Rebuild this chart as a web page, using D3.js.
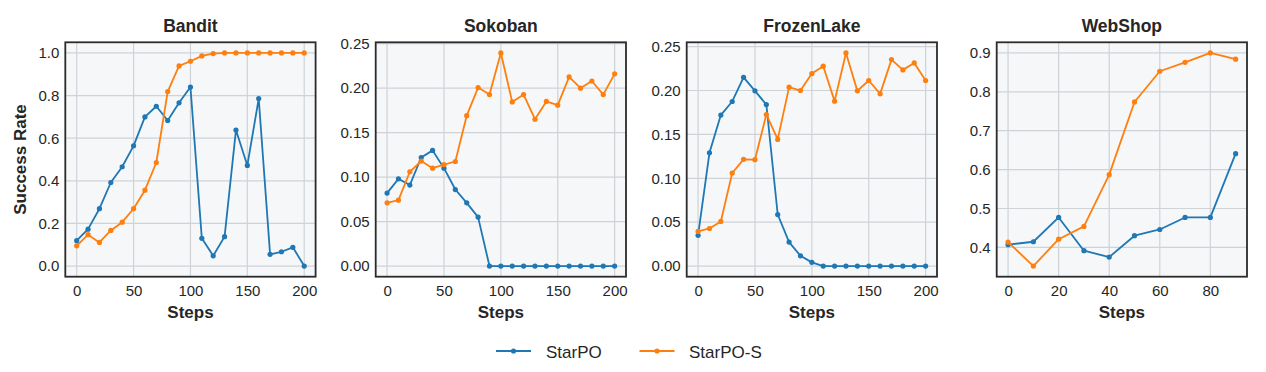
<!DOCTYPE html>
<html lang="en">

<head>
    <meta charset="UTF-8">
    <title>StarPO vs StarPO-S</title>
    <script src="https://unpkg.com/d3@7.8.5/dist/d3.min.js"></script>
    <style>
        * {
            margin: 0;
            padding: 0;
            box-sizing: border-box;
        }

        body {
            background: #fff;
        }

        svg {
            display: block;
            font-family: "Liberation Sans", Arial, sans-serif;
        }
    </style>
</head>

<body>
    <svg class="cc" width="1266" height="372"></svg>
    <script>
        // 数据
        const envs = ['Bandit', 'Sokoban', 'FrozenLake', 'WebShop']
        const seriesNames = ['StarPO', 'StarPO-S']
        const colors = ['#1f77b4', '#ff7f0e']

        const steps200 = [0, 10, 20, 30, 40, 50, 60, 70, 80, 90, 100, 110, 120, 130, 140, 150, 160, 170, 180, 190, 200]
        const steps90 = [0, 10, 20, 30, 40, 50, 60, 70, 80, 90]

        const banditStarPO = [0.119, 0.173, 0.269, 0.392, 0.466, 0.564, 0.70, 0.75, 0.683, 0.766, 0.84, 0.13, 0.048, 0.138, 0.638, 0.472, 0.786, 0.055, 0.067, 0.088, 0.0]
        const banditStarPOS = [0.095, 0.147, 0.111, 0.167, 0.206, 0.269, 0.356, 0.486, 0.819, 0.939, 0.961, 0.986, 0.997, 1.0, 1.0, 1.0, 1.0, 1.0, 1.0, 1.0, 1.0]

        const sokobanStarPO = [0.082, 0.098, 0.091, 0.122, 0.130, 0.110, 0.086, 0.071, 0.055, 0, 0, 0, 0, 0, 0, 0, 0, 0, 0, 0, 0]
        const sokobanStarPOS = [0.071, 0.074, 0.106, 0.118, 0.110, 0.114, 0.1175, 0.169, 0.2006, 0.1927, 0.2395, 0.1845, 0.1927, 0.165, 0.185, 0.1808, 0.2126, 0.1999, 0.208, 0.1927, 0.216]

        const frozenStarPO = [0.035, 0.129, 0.172, 0.1875, 0.215, 0.1996, 0.184, 0.0587, 0.0273, 0.0117, 0.0042, 0, 0, 0, 0, 0, 0, 0, 0, 0, 0]
        const frozenStarPOS = [0.0394, 0.0428, 0.0508, 0.106, 0.1216, 0.1212, 0.1727, 0.1443, 0.2038, 0.2, 0.2193, 0.2277, 0.1879, 0.2428, 0.1996, 0.2114, 0.1962, 0.2352, 0.2235, 0.2314, 0.2114]

        const webshopStarPO = [0.407, 0.4145, 0.477, 0.3915, 0.375, 0.430, 0.446, 0.477, 0.477, 0.641]
        const webshopStarPOS = [0.4137, 0.352, 0.421, 0.454, 0.587, 0.774, 0.853, 0.876, 0.9, 0.884]

        // 刻度
        const xTicks200 = [0, 50, 100, 150, 200]
        const xTicks90 = [0, 20, 40, 60, 80]
        const yTicksBandit = [0, 0.2, 0.4, 0.6, 0.8, 1.0]
        const yTicksSmall = [0, 0.05, 0.10, 0.15, 0.20, 0.25]
        const yTicksWeb = [0.4, 0.5, 0.6, 0.7, 0.8, 0.9]

        const panels = [
            { steps: steps200, series: [banditStarPO, banditStarPOS], xTicks: xTicks200, yTicks: yTicksBandit, yFmt: '.1f' },
            { steps: steps200, series: [sokobanStarPO, sokobanStarPOS], xTicks: xTicks200, yTicks: yTicksSmall, yFmt: '.2f' },
            { steps: steps200, series: [frozenStarPO, frozenStarPOS], xTicks: xTicks200, yTicks: yTicksSmall, yFmt: '.2f' },
            { steps: steps90, series: [webshopStarPO, webshopStarPOS], xTicks: xTicks90, yTicks: yTicksWeb, yFmt: '.1f' }
        ]

        const svg = d3.select('svg')
        const plotTop = 42.3, plotBottom = 276.7
        const pw = 250.3
        const lefts = [65.3, 375.7, 686.7, 996.7]
        const textColor = '#262626'

        // 5% 边距
        function padExtent(vals) {
            const [a, b] = d3.extent(vals)
            const p = (b - a) * 0.05
            return [a - p, b + p]
        }

        panels.forEach((pan, k) => {
            const x0 = lefts[k]
            const g = svg.append('g').attr('transform', `translate(${x0},0)`)

            const x = d3.scaleLinear().domain(padExtent(pan.steps)).range([0, pw])
            const y = d3.scaleLinear().domain(padExtent(pan.series.flat())).range([plotBottom, plotTop])

            // 背景
            g.append('rect')
                .attr('x', 0).attr('y', plotTop)
                .attr('width', pw).attr('height', plotBottom - plotTop)
                .attr('fill', '#f5f7f9')

            // 网格
            g.append('g').selectAll('line').data(pan.xTicks).enter().append('line')
                .attr('x1', d => x(d)).attr('x2', d => x(d))
                .attr('y1', plotTop).attr('y2', plotBottom)
                .attr('stroke', '#cfd3d7').attr('stroke-width', 1.2)
            g.append('g').selectAll('line').data(pan.yTicks).enter().append('line')
                .attr('x1', 0).attr('x2', pw)
                .attr('y1', d => y(d)).attr('y2', d => y(d))
                .attr('stroke', '#cfd3d7').attr('stroke-width', 1.2)

            // 坐标轴
            const xAxis = g.append('g').attr('transform', `translate(0,${plotBottom})`)
                .call(d3.axisBottom(x).tickValues(pan.xTicks).tickSize(0).tickPadding(9))
            const yAxis = g.append('g')
                .call(d3.axisLeft(y).tickValues(pan.yTicks).tickFormat(d3.format(pan.yFmt)).tickSize(0).tickPadding(6))
            ;[xAxis, yAxis].forEach(a => {
                a.select('.domain').remove()
                a.selectAll('text')
                    .attr('fill', textColor)
                    .style('font-size', '15px')
                    .style('font-family', '"Liberation Sans", Arial, sans-serif')
            })

            // 折线
            pan.series.forEach((vals, s) => {
                const pts = vals.map((v, i) => [pan.steps[i], v])
                g.append('path')
                    .datum(pts)
                    .attr('fill', 'none')
                    .attr('stroke', colors[s])
                    .attr('stroke-width', 1.8)
                    .attr('stroke-linejoin', 'round')
                    .attr('d', d3.line().x(d => x(d[0])).y(d => y(d[1])))
                g.append('g').selectAll('circle').data(pts).enter().append('circle')
                    .attr('cx', d => x(d[0]))
                    .attr('cy', d => y(d[1]))
                    .attr('r', 2.6)
                    .attr('fill', colors[s])
            })

            // 边框
            g.append('rect')
                .attr('x', 0).attr('y', plotTop)
                .attr('width', pw).attr('height', plotBottom - plotTop)
                .attr('fill', 'none')
                .attr('stroke', '#2b2b2b').attr('stroke-width', 1.8)

            // 标题
            g.append('text')
                .attr('x', pw / 2).attr('y', 32.3)
                .attr('text-anchor', 'middle')
                .attr('fill', textColor)
                .style('font-size', '17.5px').style('font-weight', 'bold')
                .text(envs[k])

            g.append('text')
                .attr('x', pw / 2).attr('y', 318)
                .attr('text-anchor', 'middle')
                .attr('fill', textColor)
                .style('font-size', '17px').style('font-weight', 'bold')
                .text('Steps')

            if (k === 0) {
                g.append('text')
                    .attr('transform', `translate(${-39},${(plotTop + plotBottom) / 2}) rotate(-90)`)
                    .attr('text-anchor', 'middle')
                    .attr('fill', textColor)
                    .style('font-size', '17px').style('font-weight', 'bold')
                    .text('Success Rate')
            }
        })

        // 图例
        const legendItems = [
            { x: 496, tx: 546 },
            { x: 639.5, tx: 689 }
        ]
        const legend = svg.append('g')
        legendItems.forEach((it, s) => {
            legend.append('line')
                .attr('x1', it.x).attr('x2', it.x + 35)
                .attr('y1', 351).attr('y2', 351)
                .attr('stroke', colors[s]).attr('stroke-width', 1.8)
            legend.append('circle')
                .attr('cx', it.x + 17.5).attr('cy', 351).attr('r', 2.6)
                .attr('fill', colors[s])
            legend.append('text')
                .attr('x', it.tx).attr('y', 357.5)
                .attr('fill', textColor)
                .style('font-size', '17px')
                .text(seriesNames[s])
        })
    </script>
</body>

</html>
